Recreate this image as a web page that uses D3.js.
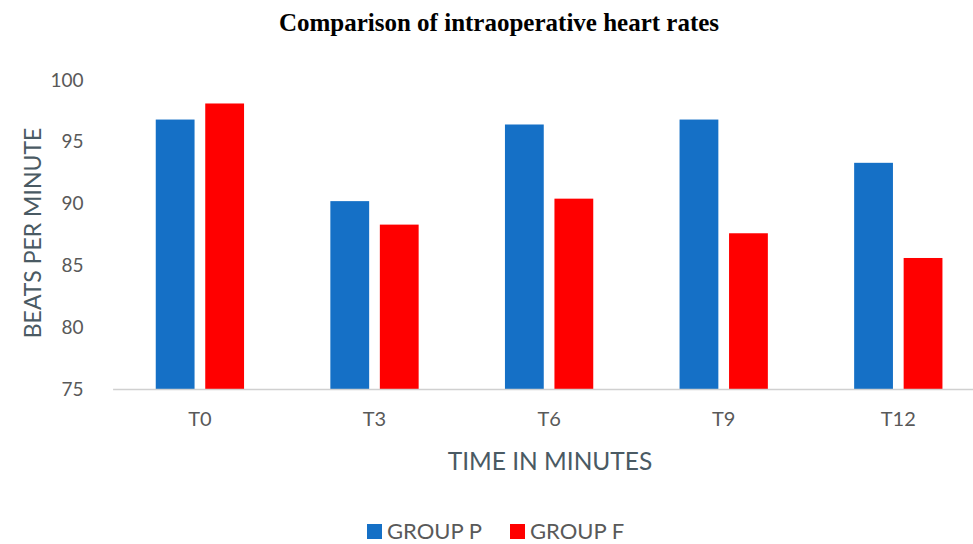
<!DOCTYPE html>
<html lang="en">
<head>
  <meta charset="UTF-8">
  <title>Comparison of intraoperative heart rates</title>
  <script src="https://cdn.jsdelivr.net/npm/d3@7"></script>
  <style>
    body {
      margin: 0;
      background: #fff;
      overflow: hidden;
    }

    #chart text {
      font-family: Lato, "Open Sans", sans-serif;
    }

    #chart .title {
      font-family: "Liberation Serif", "DejaVu Serif", serif;
      font-weight: bold;
    }
  </style>
</head>
<body>
<svg id="chart" width="973" height="544"></svg>
<script>
  const categories = ["T0", "T3", "T6", "T9", "T12"];
  const groups = ["GROUP P", "GROUP F"];
  const groupP = [96.8, 90.2, 96.4, 96.8, 93.3];
  const groupF = [98.1, 88.3, 90.4, 87.6, 85.6];
  const yTicks = [75, 80, 85, 90, 95, 100];
  const colors = ["#1570c6", "#ff0000"];

  const margin = {left: 112.6, right: 985.6, top: 80, bottom: 389};

  let svg = d3.select("#chart");

  let x0 = d3.scaleBand().domain(categories).range([margin.left, margin.right]);
  let groupWidth = 88.3;
  let x1 = d3.scaleBand().domain(groups)
      .range([(x0.bandwidth() - groupWidth) / 2, (x0.bandwidth() + groupWidth) / 2])
      .paddingInner(0.216);
  let y = d3.scaleLinear().domain([75, 100]).range([margin.bottom, margin.top]);

  let color = d3.scaleOrdinal().domain(groups).range(colors);

  let rows = categories.map((c, i) => ({cat: c, vals: [groupP[i], groupF[i]]}));

  // bars
  svg.append("g")
      .selectAll("g")
      .data(rows)
      .join("g")
      .attr("transform", d => `translate(${x0(d.cat)},0)`)
      .selectAll("rect")
      .data(d => d.vals.map((v, i) => ({g: groups[i], v: v})))
      .join("rect")
      .attr("x", d => x1(d.g))
      .attr("width", x1.bandwidth())
      .attr("y", d => y(d.v))
      .attr("height", d => y(75) - y(d.v))
      .attr("fill", d => color(d.g));

  // x axis
  let xAxis = svg.append("g")
      .attr("transform", `translate(0,${margin.bottom})`)
      .call(d3.axisBottom(x0).tickSize(0).tickPadding(23));
  xAxis.select(".domain").attr("stroke", "#d0d0d0").attr("stroke-width", 1.3);
  xAxis.selectAll("text").attr("font-size", 20).attr("fill", "#595959");

  // y axis
  let yAxis = svg.append("g")
      .attr("transform", `translate(${margin.left},0)`)
      .call(d3.axisLeft(y).tickValues(yTicks).tickSize(0).tickPadding(29));
  yAxis.select(".domain").remove();
  yAxis.selectAll("text").attr("font-size", 19).attr("fill", "#595959");

  // title
  svg.append("text")
      .attr("class", "title")
      .attr("x", 499)
      .attr("y", 31)
      .attr("text-anchor", "middle")
      .attr("font-size", 25)
      .attr("fill", "#000")
      .text("Comparison of intraoperative heart rates");

  // axis titles
  svg.append("text")
      .attr("transform", "translate(41,233) rotate(-90)")
      .attr("text-anchor", "middle")
      .attr("font-size", 23)
      .attr("fill", "#4a5a63")
      .text("BEATS PER MINUTE");

  svg.append("text")
      .attr("x", 550)
      .attr("y", 470)
      .attr("text-anchor", "middle")
      .attr("font-size", 24.5)
      .attr("fill", "#4a5a63")
      .text("TIME IN MINUTES");

  // legend
  let legend = svg.append("g")
      .selectAll("g")
      .data(groups)
      .join("g")
      .attr("transform", (d, i) => `translate(${367 + i * 143},524)`);

  legend.append("rect")
      .attr("width", 15)
      .attr("height", 15)
      .attr("fill", d => color(d));

  legend.append("text")
      .attr("x", 20)
      .attr("y", 15)
      .attr("font-size", 22)
      .attr("fill", "#595959")
      .text(d => d);
</script>
</body>
</html>
